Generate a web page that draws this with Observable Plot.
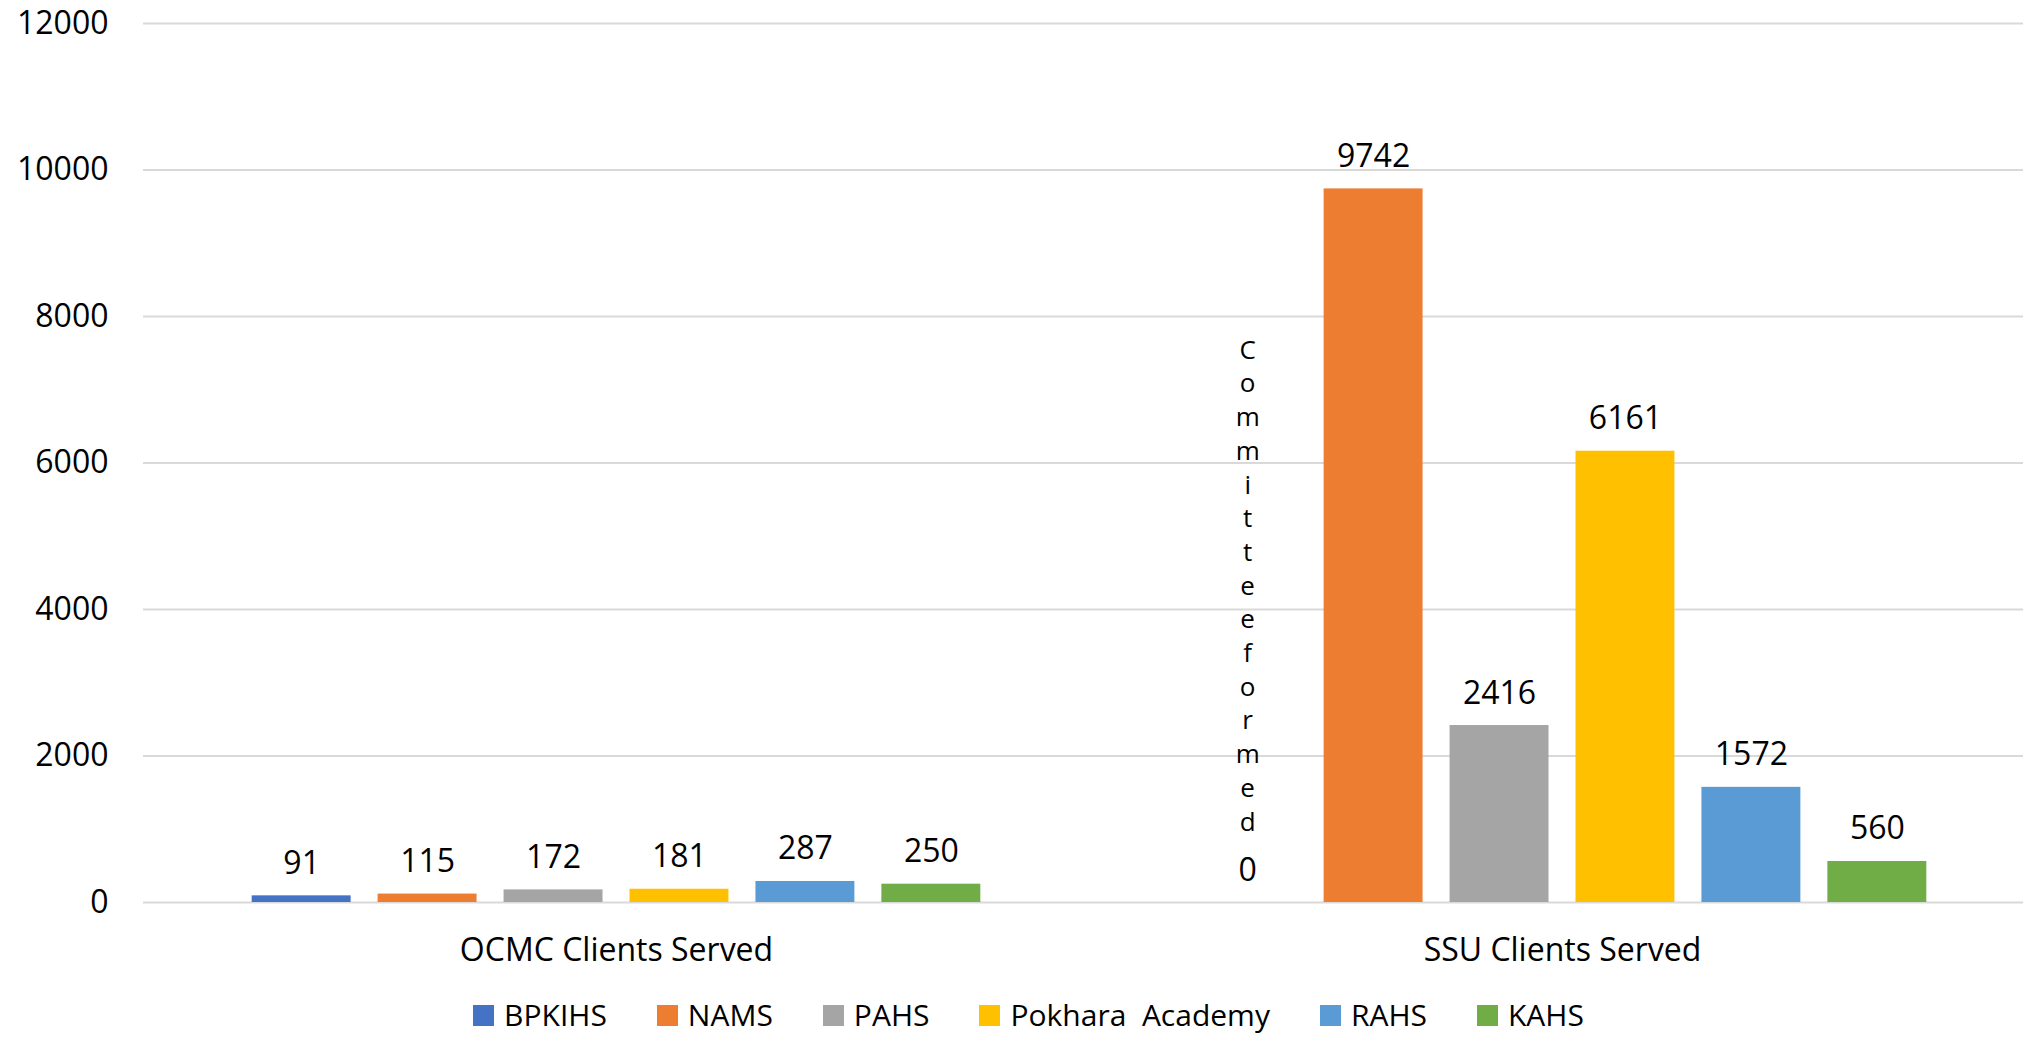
<!DOCTYPE html>
<html>
<head>
<meta charset="utf-8">
<script src="https://cdn.jsdelivr.net/npm/d3@7"></script>
<script src="https://cdn.jsdelivr.net/npm/@observablehq/plot@0.6"></script>
<style>
  html, body { margin: 0; padding: 0; background: #fff; overflow: hidden; }
  #wrap { position: relative; width: 2023px; height: 1037px; overflow: hidden; background: #fff; }
  #chart { position: absolute; left: 0; top: 0; width: 2035px; }
  #chart svg { max-width: none !important; }
  #legend {
    position: absolute; left: 34px; top: 997px; width: 1989px; height: 36px;
    display: flex; justify-content: center; align-items: center; gap: 50px;
    font-family: 'Open Sans', sans-serif; font-size: 30px; line-height: 36px; color: #000;
  }
  .item { display: flex; align-items: center; gap: 10px; white-space: pre; }
  .sw { width: 21px; height: 21px; display: inline-block; }
</style>
</head>
<body>
<div id="wrap">
  <div id="chart"></div>
  <div id="legend"></div>
</div>
<script>
// ---- data ----
const groups = ["OCMC Clients Served", "SSU Clients Served"];
const institutions = ["BPKIHS", "NAMS", "PAHS", "Pokhara  Academy", "RAHS", "KAHS"];
const ocmcValues = [91, 115, 172, 181, 287, 250];
const ssuValues = [0, 9742, 2416, 6161, 1572, 560];
const colors = ["#4472C4", "#ED7D31", "#A5A5A5", "#FFC000", "#5B9BD5", "#70AD47"];
const yTicks = [0, 2000, 4000, 6000, 8000, 10000, 12000];
const notes = [{ group: "SSU Clients Served", institution: "BPKIHS", value: 0, note: "Committee formed" }];

// ---- table ----
const seriesByGroup = [ocmcValues, ssuValues];
const data = groups.flatMap((g, gi) =>
  institutions.map((inst, i) => ({ group: g, institution: inst, value: seriesByGroup[gi][i] }))
);

const chart = Plot.plot({
  width: 2035,
  height: 985,
  marginLeft: 142,
  marginRight: 0,
  marginTop: 23,
  marginBottom: 83,
  style: { fontFamily: "'Open Sans', sans-serif", background: "white", color: "black", maxWidth: "none" },
  fx: { domain: groups, padding: 0, label: null },
  x: { domain: institutions, paddingInner: 0.2143, paddingOuter: 0.863, round: false, axis: null },
  y: { domain: [0, 12000] },
  color: { domain: institutions, range: colors },
  marks: [
    Plot.gridY(yTicks, { stroke: "#d9d9d9", strokeOpacity: 1, strokeWidth: 2 }),
    Plot.axisY(yTicks, { tickSize: 0, tickPadding: 35, fontSize: 32, label: null, tickFormat: d => String(d) }),
    Plot.axisFx({ anchor: "bottom", tickSize: 0, tickPadding: 36, fontSize: 32, label: null }),
    Plot.barY(data, { fx: "group", x: "institution", y: "value", fill: "institution" }),
    Plot.text(data, {
      fx: "group", x: "institution", y: "value",
      text: d => String(d.value), lineAnchor: "bottom", dy: -22, fontSize: 32, fill: "black"
    }),
    Plot.text(notes, {
      fx: "group", x: "institution", y: "value",
      text: d => d.note.replace(/\s/g, "").split("").join("\n"),
      lineAnchor: "bottom", dy: -72, fontSize: 26, lineHeight: 1.296, fill: "black"
    })
  ]
});
document.getElementById("chart").appendChild(chart);

// ---- legend ----
const legend = document.getElementById("legend");
institutions.forEach((inst, i) => {
  const item = document.createElement("div");
  item.className = "item";
  const sw = document.createElement("span");
  sw.className = "sw";
  sw.style.background = colors[i];
  const label = document.createElement("span");
  label.textContent = inst;
  item.appendChild(sw);
  item.appendChild(label);
  legend.appendChild(item);
});
</script>
</body>
</html>
